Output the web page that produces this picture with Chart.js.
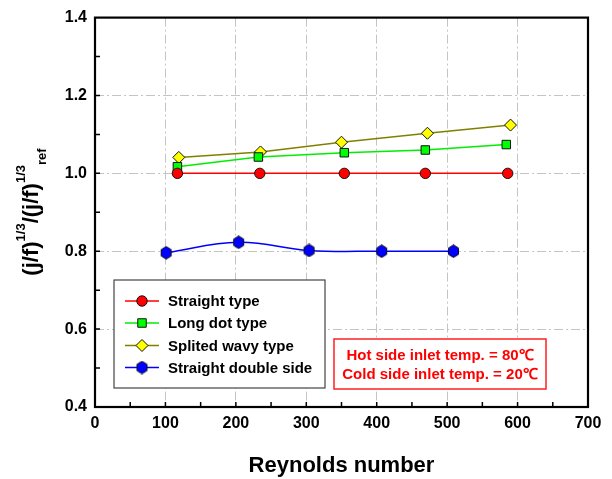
<!DOCTYPE html>
<html>
<head>
<meta charset="utf-8">
<script src="https://cdn.jsdelivr.net/npm/chart.js@4/dist/chart.umd.min.js"></script>
<style>
  html, body { margin: 0; padding: 0; background: #fff; }
  #wrap { width: 612px; height: 479px; }
</style>
</head>
<body>
<div id="wrap"><canvas id="chart" width="612" height="479"></canvas></div>
<script>
// Data
const straightRe = [117, 234, 354, 469, 586];
const straightVal = [1.0, 1.0, 1.0, 1.0, 1.0];

const longDotRe = [117, 232, 354, 469, 584];
const longDotVal = [1.017, 1.042, 1.053, 1.060, 1.074];

const wavyRe = [119, 235, 350, 472, 590];
const wavyVal = [1.041, 1.055, 1.080, 1.103, 1.124];

const doubleRe = [101, 204, 304, 407, 509];
const doubleVal = [0.796, 0.823, 0.802, 0.800, 0.800];

const seriesNames = ["Straight type", "Long dot type", "Splited wavy type", "Straight double side"];
const noteLines = ["Hot side inlet temp. = 80\u2103", "Cold side inlet temp. = 20\u2103"];

const FONT = "'Liberation Sans', Arial, sans-serif";

// hexagon marker (not built into Chart.js)
function makeHexagon() {
  const c = document.createElement("canvas");
  c.width = 13; c.height = 14;
  const g = c.getContext("2d");
  g.beginPath();
  for (let i = 0; i < 6; i++) {
    const a = Math.PI / 2 + i * Math.PI / 3;
    const px = 6.5 + 5.8 * Math.cos(a);
    const py = 7 + 6.3 * Math.sin(a);
    if (i === 0) g.moveTo(px, py); else g.lineTo(px, py);
  }
  g.closePath();
  g.fillStyle = "#0000ff";
  g.fill();
  g.lineWidth = 1;
  g.strokeStyle = "#111";
  g.stroke();
  return c;
}
const hexagon = makeHexagon();

function pts(xs, ys) {
  return xs.map((x, i) => ({ x: x, y: ys[i] }));
}

const datasets = [
  { label: seriesNames[0], data: pts(straightRe, straightVal), borderColor: "#ff0000", backgroundColor: "#ff0000",
    pointStyle: "circle", pointRadius: 5.2, pointBorderColor: "#111", pointBackgroundColor: "#ff0000", tension: 0 },
  { label: seriesNames[1], data: pts(longDotRe, longDotVal), borderColor: "#00ee00", backgroundColor: "#00ff00",
    pointStyle: "rect", pointRadius: 6, pointBorderColor: "#111", pointBackgroundColor: "#00ff00", tension: 0 },
  { label: seriesNames[2], data: pts(wavyRe, wavyVal), borderColor: "#808000", backgroundColor: "#ffff00",
    pointStyle: "rectRot", pointRadius: 6, pointBorderColor: "#111", pointBackgroundColor: "#ffff00", tension: 0 },
  { label: seriesNames[3], data: pts(doubleRe, doubleVal), borderColor: "#0000ff", backgroundColor: "#0000ff",
    pointStyle: hexagon, pointRadius: 6, pointBorderColor: "#111", pointBackgroundColor: "#0000ff", tension: 0.4 }
];
datasets.forEach((d) => {
  d.showLine = true;
  d.borderWidth = 1.5;
  d.pointBorderWidth = 1;
  d.order = 0;
});

// frame, inward ticks, y title, legend, note box
const decorPlugin = {
  id: "decor",
  afterDatasetsDraw(chart) {
    const ctx = chart.ctx;
    const area = chart.chartArea;
    const xs = chart.scales.x;
    const ys = chart.scales.y;

    ctx.save();
    // minor + major ticks (inward)
    ctx.strokeStyle = "#000";
    ctx.lineWidth = 1.5;
    ctx.beginPath();
    for (let v = 50; v < 700; v += 50) {
      const px = xs.getPixelForValue(v);
      ctx.moveTo(px, area.bottom);
      ctx.lineTo(px, area.bottom - 5);
    }
    for (let k = 5; k < 14; k++) {
      const py = ys.getPixelForValue(k / 10);
      ctx.moveTo(area.left, py);
      ctx.lineTo(area.left + 5, py);
    }
    ctx.stroke();

    // frame
    ctx.lineWidth = 2.2;
    ctx.strokeRect(area.left, area.top, area.right - area.left, area.bottom - area.top);

    // legend
    const lx = 114, ly = 280, lw = 211, lh = 108;
    ctx.fillStyle = "#fff";
    ctx.fillRect(lx, ly, lw, lh);
    ctx.lineWidth = 1.2;
    ctx.strokeStyle = "#444";
    ctx.strokeRect(lx, ly, lw, lh);
    const rowY = [301, 323, 345.5, 367.5];
    chart.data.datasets.forEach((ds, i) => {
      const y = rowY[i];
      ctx.strokeStyle = ds.borderColor;
      ctx.lineWidth = 1.5;
      ctx.beginPath();
      ctx.moveTo(125, y);
      ctx.lineTo(159, y);
      ctx.stroke();
      ctx.fillStyle = ds.pointBackgroundColor;
      ctx.strokeStyle = ds.pointBorderColor;
      ctx.lineWidth = 1;
      Chart.helpers.drawPoint(ctx, { pointStyle: ds.pointStyle, radius: ds.pointRadius, rotation: 0, borderWidth: 1 }, 142, y);
      ctx.fillStyle = "#000";
      ctx.font = "bold 15px " + FONT;
      ctx.textAlign = "left";
      ctx.textBaseline = "middle";
      ctx.fillText(ds.label, 168, y + 1);
    });

    // note box
    const nx = 334, ny = 339, nw = 212, nh = 50;
    ctx.fillStyle = "#fff";
    ctx.fillRect(nx, ny, nw, nh);
    ctx.strokeStyle = "#ff2020";
    ctx.lineWidth = 1.5;
    ctx.strokeRect(nx, ny, nw, nh);
    ctx.fillStyle = "#ff0000";
    ctx.font = "bold 15px " + FONT;
    ctx.textAlign = "center";
    ctx.textBaseline = "middle";
    ctx.fillText(noteLines[0], nx + nw / 2, 355.5);
    ctx.fillText(noteLines[1], nx + nw / 2, 374.5);

    // y axis title with super/subscripts
    const parts = [
      { t: "(j/f)", f: 22, dy: 0 },
      { t: "1/3", f: 13, dy: -13 },
      { t: "/(j/f)", f: 22, dy: 0 },
      { t: "1/3", f: 13, dy: -13 },
      { t: "ref", f: 13, dy: 8 }
    ];
    let total = 0;
    parts.forEach((p) => {
      ctx.font = "bold " + p.f + "px " + FONT;
      p.w = ctx.measureText(p.t).width;
      total += p.w;
    });
    ctx.translate(38, 212);
    ctx.rotate(-Math.PI / 2);
    ctx.fillStyle = "#000";
    ctx.textAlign = "left";
    ctx.textBaseline = "alphabetic";
    let cx = -total / 2;
    parts.forEach((p) => {
      ctx.font = "bold " + p.f + "px " + FONT;
      ctx.fillText(p.t, cx, p.dy);
      cx += p.w;
    });
    ctx.restore();
  }
};

const ctx = document.getElementById("chart").getContext("2d");
new Chart(ctx, {
  type: "scatter",
  data: { datasets: datasets },
  options: {
    responsive: false,
    animation: false,
    layout: { padding: { top: 16, right: 24, left: 0, bottom: 0 } },
    plugins: { legend: { display: false }, tooltip: { enabled: false } },
    scales: {
      x: {
        type: "linear",
        min: 0,
        max: 700,
        afterFit(scale) { scale.height = 72; },
        ticks: { stepSize: 100, color: "#000", padding: 7, font: { family: FONT, size: 16, weight: "bold" } },
        grid: { color: "#c4c4c4", lineWidth: 1, drawTicks: false },
        border: { display: false, dash: [9, 3, 2, 3] },
        title: { display: true, text: "Reynolds number", color: "#000", padding: { top: 0, bottom: 0 },
          font: { family: FONT, size: 22, weight: "bold" } }
      },
      y: {
        min: 0.4,
        max: 1.4,
        afterFit(scale) { scale.width = 95; },
        ticks: { stepSize: 0.2, color: "#000", padding: 8, font: { family: FONT, size: 16, weight: "bold" },
          callback: (v) => v.toFixed(1) },
        grid: { color: "#c4c4c4", lineWidth: 1, drawTicks: false },
        border: { display: false, dash: [9, 3, 2, 3] }
      }
    }
  },
  plugins: [decorPlugin]
});
</script>
</body>
</html>
